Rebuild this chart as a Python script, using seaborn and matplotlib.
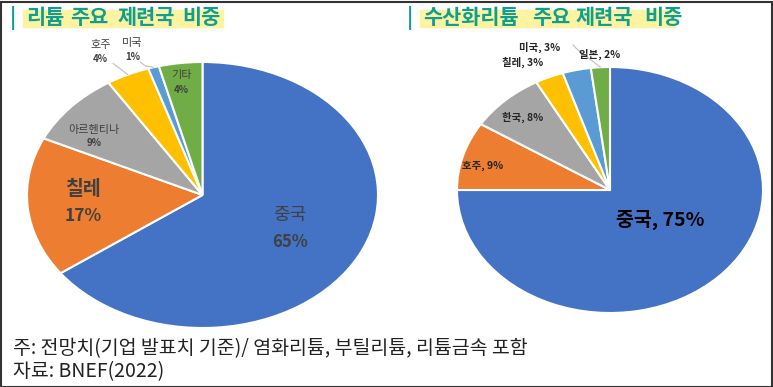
import matplotlib
matplotlib.use("Agg")
import matplotlib.pyplot as plt
import seaborn as sns
import numpy as np
from matplotlib.patches import Rectangle

# data
lith_labels = ["중국", "칠레", "아르헨티나", "호주", "미국", "기타"]
lith_values = [65, 17, 9, 4, 1, 4]
hyd_labels = ["중국", "호주", "한국", "칠레", "미국", "일본"]
hyd_values = [75, 9, 8, 3, 3, 2]
colors = ["#4472C4", "#ED7D31", "#A5A5A5", "#FFC000", "#5B9BD5", "#70AD47"]

sns.set_style("white")
plt.rcParams["font.family"] = ["Noto Sans CJK KR", "DejaVu Sans"]

W, H = 773, 387
fig = plt.figure(figsize=(W / 100, H / 100), dpi=100)


def px_axes(x0, y0, x1, y1):
    return fig.add_axes([x0 / W, 1 - y1 / H, (x1 - x0) / W, (y1 - y0) / H])


def draw_pie(ax, values):
    wedges, _ = ax.pie(values, colors=colors, startangle=90, counterclock=False,
                       radius=1, wedgeprops=dict(edgecolor="white", linewidth=1.5))
    ax.set_aspect("auto")
    ax.set_xlim(-1, 1)
    ax.set_ylim(-1, 1)
    ax.axis("off")
    return wedges


def wedge_point(w, r=1.0):
    ang = np.deg2rad((w.theta1 + w.theta2) / 2)
    return r * np.cos(ang), r * np.sin(ang)


# left pie
ax1 = px_axes(27, 62, 378, 328)
w1 = draw_pie(ax1, lith_values)
txt = "#404040"
ax1.text(0.50, -0.15, lith_labels[0], ha="center", va="center",
         fontsize=13, color=txt)
ax1.text(0.50, -0.35, f"{lith_values[0]}%", ha="center", va="center",
         fontsize=12, fontweight="bold", color=txt)
ax1.text(-0.68, 0.04, lith_labels[1], ha="center", va="center",
         fontsize=14, fontweight="bold", color=txt)
ax1.text(-0.68, -0.16, f"{lith_values[1]}%", ha="center", va="center",
         fontsize=12.5, fontweight="bold", color=txt)
small = [(2, -0.62, 0.49, 0.39), (3, -0.58, 1.13, 1.02), (4, -0.40, 1.14, 1.04),
         (5, -0.12, 0.90, 0.79)]
for i, x, y1, y2 in small:
    ax1.text(x, y1, lith_labels[i], ha="center", va="center", fontsize=8, color=txt)
    ax1.text(x, y2, f"{lith_values[i]}%", ha="center", va="center",
             fontsize=7, fontweight="bold", color=txt)
# leader lines for 호주, 미국
for i, (lx, ly) in [(3, (-0.51, 0.99)), (4, (-0.355, 1.0))]:
    px, py = wedge_point(w1[i], 1.0)
    ax1.plot([lx, lx + 0.03, px], [ly, ly - 0.03, py], color="#BFBFBF", lw=0.8,
             clip_on=False)

# right pie
ax2 = px_axes(457, 67, 763, 313)
w2 = draw_pie(ax2, hyd_values)
ax2.text(0.33, -0.24, f"{hyd_labels[0]}, {hyd_values[0]}%", ha="center", va="center",
         fontsize=14, fontweight="bold", color="black")
small2 = [(1, -0.83, 0.20), (2, -0.57, 0.59), (3, -0.57, 1.04), (4, -0.46, 1.16),
          (5, -0.065, 1.10)]
for i, x, y in small2:
    ax2.text(x, y, f"{hyd_labels[i]}, {hyd_values[i]}%", ha="center", va="center",
             fontsize=7.5, fontweight="bold", color="#262626")
px, py = wedge_point(w2[5], 1.0)
ax2.plot([-0.24, -0.22, px], [1.18, 1.15, py], color="#BFBFBF", lw=0.8, clip_on=False)

# titles
teal = "#0E9E92"
hl = "#FDF3A0"
fig.patches.append(Rectangle((23 / W, 1 - 27 / H), 200 / W, 17 / H,
                             transform=fig.transFigure, color=hl, zorder=0))
fig.patches.append(Rectangle((420 / W, 1 - 27 / H), 255 / W, 17 / H,
                             transform=fig.transFigure, color=hl, zorder=0))
title_words = [(10, "|"), (26, "리튬"), (70, "주요"), (118, "제련국"), (182, "비중"),
               (407, "|"), (423, "수산화리튬"), (532, "주요"), (576, "제련국"), (644, "비중")]
for x, word in title_words:
    fig.text(x / W, 1 - 18 / H, word, fontsize=15, fontweight="bold", color=teal,
             va="center")

# footnotes
fig.text(13 / W, 1 - 349 / H, "주: 전망치(기업 발표치 기준)/ 염화리튬, 부틸리튬, 리튬금속 포함",
         fontsize=14, color="#222222", va="center")
fig.text(13 / W, 1 - 372 / H, "자료: BNEF(2022)", fontsize=14, color="#222222", va="center")

# frame
fig.patches.append(Rectangle((0.5 / W, 0.5 / H), (W - 2) / W, (H - 2) / H,
                             transform=fig.transFigure, fill=False, edgecolor="#333333",
                             lw=1.5))

fig.savefig("out.png", dpi=100)
